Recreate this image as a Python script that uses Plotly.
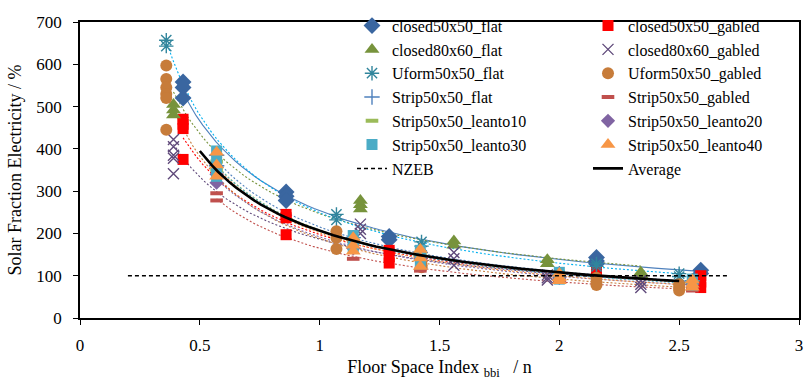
import numpy as np
import plotly.graph_objects as go

# ---------------- data ----------------
X_CLOSED50 = [0.43, 0.86, 1.29, 2.155, 2.59]
X_CLOSED80 = [0.39, 1.17, 1.56, 1.95, 2.34]
X_UFORM = [0.36, 1.07, 1.425, 2.155, 2.5]
X_STRIP = [0.57, 1.14, 1.42, 2.0, 2.555]

closed50x50_flat = [[558, 545, 520], [298, 288, 278], [193, 185], [143, 135, 128], [113, 105]]
closed50x50_gabled = [[470, 458, 448, 375], [245, 237, 197], [160, 145, 130], [110, 95], [100, 85, 72]]
closed80x60_flat = [[505, 492, 480], [278, 268, 258], [182, 172], [138, 128], [108, 102]]
closed80x60_gabled = [[422, 405, 385, 378, 341], [222, 210, 200], [155, 140, 125], [102, 95, 90], [88, 80, 72]]
Uform50x50_flat = [[657, 643], [245, 232], [180, 170], [128, 122], [105, 98]]
Uform50x50_gabled = [[597, 565, 545, 530, 520, 445], [205, 190, 163], [135, 125, 120], [95, 85, 78], [80, 72, 65]]
Strip50x50_flat = [[385, 360], [190], [155], [105], [88]]
Strip50x50_gabled = [[295, 278], [140], [112], [90, 85], [70, 65]]
Strip50x50_leanto10 = [[370, 350], [185], [150], [100], [85]]
Strip50x50_leanto20 = [[340, 320], [165], [140], [95], [80]]
Strip50x50_leanto30 = [[395, 375, 355, 335], [195, 180, 165], [160, 145, 128], [108, 100, 92], [92, 85, 78]]
Strip50x50_leanto40 = [[392, 362, 335], [190, 172, 158], [162, 142, 122], [105, 95, 88], [90, 80, 73]]

NZEB_X = [0.2, 2.7]
NZEB_Y = [100, 100]
AVERAGE_RANGE = [0.5, 2.5]

FONT = "Liberation Serif"

# name, x positions, values, symbol, colour, marker size, line-type marker?
SERIES = [
    ("closed50x50_flat", X_CLOSED50, closed50x50_flat, "diamond", "#3A66A0", 13, False),
    ("closed50x50_gabled", X_CLOSED50, closed50x50_gabled, "square", "#FF0000", 11, False),
    ("closed80x60_flat", X_CLOSED80, closed80x60_flat, "triangle-up", "#77933C", 13, False),
    ("closed80x60_gabled", X_CLOSED80, closed80x60_gabled, "x-thin-open", "#604A7B", 11, True),
    ("Uform50x50_flat", X_UFORM, Uform50x50_flat, "asterisk-open", "#31859C", 12, True),
    ("Uform50x50_gabled", X_UFORM, Uform50x50_gabled, "circle", "#C77C3A", 12, False),
    ("Strip50x50_flat", X_STRIP, Strip50x50_flat, "cross-thin-open", "#4F81BD", 11, True),
    ("Strip50x50_gabled", X_STRIP, Strip50x50_gabled, "line-ew-open", "#C0504D", 9, True),
    ("Strip50x50_leanto10", X_STRIP, Strip50x50_leanto10, "line-ew-open", "#9BBB59", 9, True),
    ("Strip50x50_leanto20", X_STRIP, Strip50x50_leanto20, "diamond", "#8064A2", 11, False),
    ("Strip50x50_leanto30", X_STRIP, Strip50x50_leanto30, "square", "#4BACC6", 11, False),
    ("Strip50x50_leanto40", X_STRIP, Strip50x50_leanto40, "triangle-up", "#F79646", 13, False),
]

TREND_COLORS = {
    "closed50x50_flat": "#4F81BD",
    "Uform50x50_flat": "#00B0F0",
    "Strip50x50_leanto30": "#4BACC6",
}


def flatten(xpos, groups):
    xs, ys = [], []
    for xv, g in zip(xpos, groups):
        for v in g:
            xs.append(xv)
            ys.append(v)
    return np.array(xs, float), np.array(ys, float)


def power_fit(xs, ys):
    b, ln_a = np.polyfit(np.log(xs), np.log(ys), 1)
    return np.exp(ln_a), b


fig = go.Figure()

# trend lines (power fits, as Excel trendlines)
all_x, all_y = [], []
for name, xpos, groups, sym, col, size, is_line in SERIES:
    xs, ys = flatten(xpos, groups)
    all_x.append(xs)
    all_y.append(ys)
    a, b = power_fit(xs, ys)
    xt = np.linspace(xs.min(), xs.max(), 80)
    solid = name == "closed50x50_flat"
    fig.add_trace(go.Scatter(
        x=xt, y=a * xt ** b, mode="lines", showlegend=False, hoverinfo="skip",
        line=dict(color=TREND_COLORS.get(name, col), width=1.1,
                  dash="solid" if solid else "2px,2px"),
    ))

# scatter markers
for i, (name, xpos, groups, sym, col, size, is_line) in enumerate(SERIES):
    xs, ys = flatten(xpos, groups)
    if is_line:
        lw = 4 if sym.startswith("line") else 1.4
        marker = dict(symbol=sym, size=size, color=col, line=dict(color=col, width=lw))
    else:
        marker = dict(symbol=sym, size=size, color=col, line=dict(width=0))
    fig.add_trace(go.Scatter(
        x=xs, y=ys, mode="markers", name=name, marker=marker,
        legend="legend" if i % 2 == 0 else "legend2",
    ))

# NZEB reference line
fig.add_trace(go.Scatter(
    x=NZEB_X, y=NZEB_Y, mode="lines", name="NZEB",
    line=dict(color="black", width=1.5, dash="4px,3px"), legend="legend",
))

# Average: power fit over all points
AX = np.concatenate(all_x)
AY = np.concatenate(all_y)
a_avg, b_avg = power_fit(AX, AY)
xa = np.linspace(AVERAGE_RANGE[0], AVERAGE_RANGE[1], 80)
fig.add_trace(go.Scatter(
    x=xa, y=a_avg * xa ** b_avg, mode="lines", name="Average",
    line=dict(color="black", width=2.6), legend="legend2",
))

axis_common = dict(
    showgrid=False, zeroline=False, showline=True, linecolor="black", linewidth=1.5,
    mirror=True, ticks="outside", ticklen=5, tickcolor="black", tickwidth=1,
    tickfont=dict(family=FONT, size=17, color="black"), automargin=False,
)

fig.update_layout(
    width=808, height=384,
    margin=dict(l=80, r=9, t=10, b=66),
    paper_bgcolor="white", plot_bgcolor="white",
    font=dict(family=FONT, color="black"),
    xaxis=dict(range=[0, 3], dtick=0.5, tick0=0, ticklabelstandoff=6,
               title=dict(text="Floor Space Index <sub>bbi</sub>\u00a0\u00a0\u00a0/ n",
                          font=dict(family=FONT, size=18), standoff=6),
               **axis_common),
    yaxis=dict(range=[0, 700], dtick=100, tick0=0, ticklabelstandoff=8,
               title=dict(text="Solar Fraction Electricity / %",
                          font=dict(family=FONT, size=18), standoff=10),
               **axis_common),
    legend=dict(x=(352 - 80) / 719, y=1.045, xanchor="left", yanchor="top",
                bgcolor="rgba(0,0,0,0)", font=dict(family=FONT, size=16), tracegroupgap=0),
    legend2=dict(x=(588 - 80) / 719, y=1.045, xanchor="left", yanchor="top",
                 bgcolor="rgba(0,0,0,0)", font=dict(family=FONT, size=16), tracegroupgap=0),
    showlegend=True,
)

fig.write_html("out.html", config={"displayModeBar": False},
               post_script="document.body.style.margin='0';")
